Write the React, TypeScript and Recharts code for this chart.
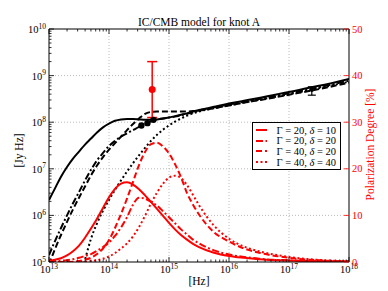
import React from 'react';
import {
  ComposedChart,
  Line,
  Scatter,
  ErrorBar,
  XAxis,
  YAxis,
  ReferenceLine,
  Legend,
} from 'recharts';

// log10 of frequency [Hz]
const logNu = [
  13.0, 13.1, 13.2, 13.3, 13.4, 13.5, 13.6, 13.7, 13.8, 13.9,
  14.0, 14.1, 14.2, 14.3, 14.4, 14.5, 14.6, 14.7, 14.8, 14.9,
  15.0, 15.1, 15.2, 15.3, 15.4, 15.5, 15.75, 16.0, 16.25, 16.5, 17.0, 17.5, 18.0,
];

// log10 of nu F_nu [Jy Hz]
const sedG20D10 = [
  6.33, 6.58, 6.83, 7.04, 7.22, 7.37, 7.52, 7.65, 7.78, 7.89,
  7.97, 8.03, 8.06, 8.07, 8.07, 8.06, 8.05, 8.05, 8.06, 8.08,
  8.10, 8.13, 8.16, 8.19, 8.23, 8.26, 8.33, 8.40, 8.46, 8.52, 8.65, 8.78, 8.93,
];
const sedG20D20 = [
  5.15, 5.45, 5.73, 6.0, 6.26, 6.5, 6.75, 6.98, 7.18, 7.34,
  7.49, 7.6, 7.69, 7.76, 7.83, 7.9, 7.96, 8.02, 8.06, 8.08,
  8.1, 8.12, 8.15, 8.18, 8.21, 8.25, 8.32, 8.38, 8.44, 8.5, 8.62, 8.75, 8.89,
];
const sedG40D20 = [
  4.95, 5.28, 5.58, 5.86, 6.13, 6.38, 6.62, 6.86, 7.07, 7.25,
  7.41, 7.55, 7.69, 7.83, 7.96, 8.08, 8.18, 8.22, 8.23, 8.23,
  8.23, 8.23, 8.23, 8.23, 8.24, 8.25, 8.3, 8.36, 8.42, 8.47, 8.59, 8.71, 8.85,
];
const sedG40D40 = [
  null, null, null, null, null, 4.6, 5.05, 5.5, 5.83, 6.1,
  6.33, 6.55, 6.75, 6.94, 7.12, 7.29, 7.45, 7.6, 7.73, 7.84,
  7.93, 8.01, 8.08, 8.14, 8.19, 8.23, 8.3, 8.36, 8.42, 8.48, 8.6, 8.73, 8.87,
];

// polarization degree [%]
const polG20D10 = [
  0.3, 0.5, 0.8, 1.4, 2.3, 3.5, 5.2, 7.2, 9.3, 11.6,
  13.9, 15.7, 16.8, 17.1, 16.6, 15.6, 14.3, 12.9, 11.4, 9.9,
  8.4, 7.0, 5.8, 4.8, 3.9, 3.2, 2.0, 1.3, 0.9, 0.6, 0.3, 0.15, 0.1,
];
const polG20D20 = [
  0.1, 0.2, 0.3, 0.4, 0.6, 0.9, 1.3, 1.7, 2.4, 3.2,
  4.2, 5.6, 7.4, 9.6, 12.3, 13.8, 13.6, 12.9, 12.1, 10.9,
  9.6, 8.3, 7.0, 5.9, 4.8, 4.0, 2.5, 1.6, 1.1, 0.7, 0.35, 0.15, 0.1,
];
const polG40D20 = [
  0, 0, 0, 0, 0.05, 0.2, 0.5, 0.9, 1.7, 2.9,
  4.7, 7.3, 10.3, 13.6, 17.2, 20.8, 23.6, 25.3, 25.6, 24.8,
  23.3, 21.0, 18.2, 14.8, 12.3, 10.2, 6.4, 4.4, 2.9, 2.0, 0.9, 0.35, 0.1,
];
const polG40D40 = [
  0, 0, 0, 0, 0, 0, 0.1, 0.2, 0.4, 0.7,
  1.2, 1.9, 2.9, 4.0, 5.5, 7.5, 9.9, 12.6, 14.9, 16.8,
  18.1, 18.5, 18.0, 16.5, 14.4, 12.2, 7.8, 5.0, 3.3, 2.3, 1.1, 0.45, 0.15,
];

// observed points
const opticalNu = [14.54, 14.64, 14.74];
const opticalFlux = [7.93, 7.98, 8.05];
const xrayNu = [17.38];
const xrayFlux = [8.69];
const xrayErr = [[0.11, 0.07]];
const polObsNu = [14.72];
const polObs = [37];
const polObsErr = [6];

const legendLabels = [
  { gamma: 20, delta: 10 },
  { gamma: 20, delta: 20 },
  { gamma: 40, delta: 20 },
  { gamma: 40, delta: 40 },
];

const RED = '#ff0000';
const SERIF = '"Liberation Serif", "DejaVu Serif", serif';
const SOLID = undefined;
const DASHDOT = '7 2.5 2 2.5';
const DASHED = '6 3';
const DOTTED = '2 2.5';
const LEGEND_DASH = [SOLID, DASHDOT, DASHED, DOTTED];

const W = 388;
const H = 291;
const M_TOP = 29;
const X_AXIS_H = 29;
const PLOT_H = H - M_TOP - X_AXIS_H;

const tableData = logNu.map((nu, i) => ({
  nu,
  sedG20D10: sedG20D10[i],
  sedG20D20: sedG20D20[i],
  sedG40D20: sedG40D20[i],
  sedG40D40: sedG40D40[i],
  polG20D10: polG20D10[i],
  polG20D20: polG20D20[i],
  polG40D20: polG40D20[i],
  polG40D40: polG40D40[i],
}));

const opticalData = opticalNu.map((nu, i) => ({ nu, val: opticalFlux[i] }));
const xrayData = xrayNu.map((nu, i) => ({ nu, val: xrayFlux[i], err: xrayErr[i] }));
const polObsData = polObsNu.map((nu, i) => ({ nu, val: polObs[i], err: polObsErr[i] }));

const logTicks = (lo: number, hi: number) => {
  const out: number[] = [];
  for (let d = lo; d < hi; d++) {
    for (let k = 1; k < 10; k++) out.push(d + Math.log10(k));
  }
  out.push(hi);
  return out;
};
const xTicks = logTicks(13, 18);
const yTicks = logTicks(5, 10);
const pTicks = [0, 10, 20, 30, 40, 50];

const isMajor = (v: number) => Math.abs(v - Math.round(v)) < 1e-6;

const Power = ({ x, y, exp, anchor }: any) => (
  <text x={x} y={y} textAnchor={anchor} fontFamily={SERIF} fontSize={10.5} fill="#000">
    10<tspan dy={-4.5} fontSize={7.5}>{exp}</tspan>
  </text>
);

// bottom ticks, mirrored on the top spine
const renderBottomTick = ({ x, y, payload }: any) => {
  const major = isMajor(payload.value);
  const len = major ? 5 : 2.5;
  const top = y - PLOT_H;
  return (
    <g key={`b-${payload.value}`}>
      <line x1={x} y1={y} x2={x} y2={y - len} stroke="#000" strokeWidth={0.8} />
      <line x1={x} y1={top} x2={x} y2={top + len} stroke="#000" strokeWidth={0.8} />
      {major && <Power x={x} y={y + 11} exp={Math.round(payload.value)} anchor="middle" />}
    </g>
  );
};

const renderLeftTick = ({ x, y, payload }: any) => {
  const major = isMajor(payload.value);
  return (
    <g key={`l-${payload.value}`}>
      <line x1={x} y1={y} x2={x + (major ? 5 : 2.5)} y2={y} stroke="#000" strokeWidth={0.8} />
      {major && <Power x={x - 3} y={y + 4} exp={Math.round(payload.value)} anchor="end" />}
    </g>
  );
};

const renderRightTick = ({ x, y, payload }: any) => (
  <g key={`r-${payload.value}`}>
    <line x1={x} y1={y} x2={x - 5} y2={y} stroke={RED} strokeWidth={0.8} />
    <text x={x + 3} y={y + 3.5} fontFamily={SERIF} fontSize={10.5} fill={RED}>
      {payload.value}
    </text>
  </g>
);

const leftTitle = (props: any) => {
  const { x, y, height } = props.viewBox;
  return (
    <text
      transform={`translate(${x + 23},${y + height / 2 + 5}) rotate(-90)`}
      textAnchor="middle"
      fontFamily={SERIF}
      fontSize={11.5}
      fill="#000"
    >
      [Jy Hz]
    </text>
  );
};

const rightTitle = (props: any) => {
  const { x, y, height } = props.viewBox;
  return (
    <text
      transform={`translate(${x + 25},${y + height / 2 - 1}) rotate(-90)`}
      textAnchor="middle"
      fontFamily={SERIF}
      fontSize={11.5}
      fill={RED}
    >
      Polarization Degree [%]
    </text>
  );
};

const bottomTitle = (props: any) => {
  const { x, y, width } = props.viewBox;
  return (
    <text x={x + width / 2} y={y + 23} textAnchor="middle" fontFamily={SERIF} fontSize={11.5} fill="#000">
      [Hz]
    </text>
  );
};

// chart title, hung on the top spine
const chartTitle = (props: any) => {
  const { x, y, width } = props.viewBox;
  return (
    <text x={x + width / 2} y={y - 3} textAnchor="middle" fontFamily={SERIF} fontSize={11.5} fill="#000">
      IC/CMB model for knot A
    </text>
  );
};

const renderLegend = () => (
  <div
    style={{
      border: '1px solid #000',
      background: '#fff',
      padding: '2px 4px 2px 3px',
      fontFamily: SERIF,
      fontSize: 10.5,
      color: '#000',
    }}
  >
    {legendLabels.map((item, i) => (
      <div key={i} style={{ display: 'flex', alignItems: 'center', height: 10.6 }}>
        <svg width={20} height={6}>
          <line x1={0} y1={3} x2={19} y2={3} stroke={RED} strokeWidth={2} strokeDasharray={LEGEND_DASH[i]} />
        </svg>
        <span style={{ marginLeft: 9, whiteSpace: 'nowrap' }}>
          Γ = {item.gamma}, <i>δ</i> = {item.delta}
        </span>
      </div>
    ))}
  </div>
);

const dot = (r: number, color: string) => (p: any) => (
  <circle cx={p.cx} cy={p.cy} r={r} fill={color} stroke="none" />
);

export default function App() {
  return (
    <div style={{ position: 'absolute', left: 0, top: 0, width: W, height: H, background: '#fff' }}>
      <ComposedChart width={W} height={H} data={tableData} margin={{ top: M_TOP, right: 0, bottom: 0, left: 0 }}>
        <XAxis
          xAxisId="x"
          dataKey="nu"
          type="number"
          domain={[13, 18]}
          allowDataOverflow
          ticks={xTicks}
          interval={0}
          tickSize={0}
          tickMargin={0}
          tick={renderBottomTick}
          height={X_AXIS_H}
          axisLine={{ stroke: '#000' }}
          label={{ value: '[Hz]', content: bottomTitle }}
        />
        <YAxis
          yAxisId="f"
          type="number"
          domain={[5, 10]}
          allowDataOverflow
          ticks={yTicks}
          interval={0}
          tickSize={0}
          tickMargin={0}
          tick={renderLeftTick}
          width={49}
          axisLine={{ stroke: '#000' }}
          label={{ value: '[Jy Hz]', content: leftTitle }}
        />
        <YAxis
          yAxisId="p"
          orientation="right"
          type="number"
          domain={[0, 50]}
          allowDataOverflow
          ticks={pTicks}
          interval={0}
          tickSize={0}
          tickMargin={0}
          tick={renderRightTick}
          width={39}
          axisLine={{ stroke: '#000' }}
          label={{ value: 'Polarization Degree [%]', content: rightTitle }}
        />

        {[14, 15, 16, 17].map((v) => (
          <ReferenceLine key={`gx${v}`} xAxisId="x" yAxisId="f" x={v} stroke="#aaa" strokeWidth={0.8} strokeDasharray="1 2" />
        ))}
        {[6, 7, 8, 9].map((v) => (
          <ReferenceLine key={`gy${v}`} xAxisId="x" yAxisId="f" y={v} stroke="#aaa" strokeWidth={0.8} strokeDasharray="1 2" />
        ))}
        <ReferenceLine
          xAxisId="x"
          yAxisId="f"
          y={10}
          stroke="#000"
          strokeWidth={1}
          label={{ value: 'IC/CMB model for knot A', content: chartTitle }}
        />

        <Line xAxisId="x" yAxisId="f" dataKey="sedG20D10" type="monotone" stroke="#000" strokeWidth={2} dot={false} activeDot={false} isAnimationActive={false} />
        <Line xAxisId="x" yAxisId="f" dataKey="sedG20D20" type="monotone" stroke="#000" strokeWidth={2} strokeDasharray={DASHDOT} dot={false} activeDot={false} isAnimationActive={false} />
        <Line xAxisId="x" yAxisId="f" dataKey="sedG40D20" type="monotone" stroke="#000" strokeWidth={2} strokeDasharray={DASHED} dot={false} activeDot={false} isAnimationActive={false} />
        <Line xAxisId="x" yAxisId="f" dataKey="sedG40D40" type="monotone" stroke="#000" strokeWidth={2} strokeDasharray={DOTTED} dot={false} activeDot={false} isAnimationActive={false} />

        <Line xAxisId="x" yAxisId="p" dataKey="polG20D10" type="monotone" stroke={RED} strokeWidth={2} dot={false} activeDot={false} isAnimationActive={false} />
        <Line xAxisId="x" yAxisId="p" dataKey="polG20D20" type="monotone" stroke={RED} strokeWidth={2} strokeDasharray={DASHDOT} dot={false} activeDot={false} isAnimationActive={false} />
        <Line xAxisId="x" yAxisId="p" dataKey="polG40D20" type="monotone" stroke={RED} strokeWidth={2} strokeDasharray={DASHED} dot={false} activeDot={false} isAnimationActive={false} />
        <Line xAxisId="x" yAxisId="p" dataKey="polG40D40" type="monotone" stroke={RED} strokeWidth={2} strokeDasharray={DOTTED} dot={false} activeDot={false} isAnimationActive={false} />

        <Scatter xAxisId="x" yAxisId="f" data={opticalData} dataKey="val" shape={dot(3.2, '#000')} isAnimationActive={false} />
        <Scatter xAxisId="x" yAxisId="f" data={xrayData} dataKey="val" shape={dot(2, '#000')} isAnimationActive={false}>
          <ErrorBar dataKey="err" direction="y" width={4} stroke="#000" strokeWidth={1.2} isAnimationActive={false} />
        </Scatter>
        <Scatter xAxisId="x" yAxisId="p" data={polObsData} dataKey="val" shape={dot(3.5, RED)} isAnimationActive={false}>
          <ErrorBar dataKey="err" direction="y" width={5} stroke={RED} strokeWidth={1.5} isAnimationActive={false} />
        </Scatter>

        <Legend
          layout="vertical"
          align="center"
          verticalAlign="middle"
          content={renderLegend}
          wrapperStyle={{ position: 'absolute', left: 252, top: 122, width: 89 }}
        />
      </ComposedChart>
    </div>
  );
}
